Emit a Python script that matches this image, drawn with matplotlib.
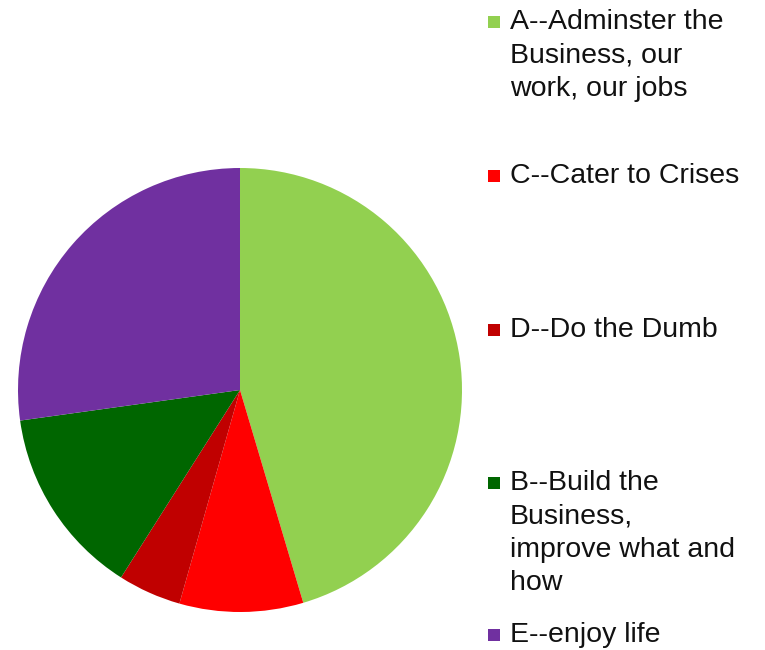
import matplotlib
matplotlib.use("Agg")
import matplotlib.pyplot as plt
from matplotlib.patches import Rectangle

plt.rcParams['font.family'] = ['Liberation Sans', 'DejaVu Sans']

labels = ["A--Adminster the\nBusiness, our\nwork, our jobs",
          "C--Cater to Crises",
          "D--Do the Dumb",
          "B--Build the\nBusiness,\nimprove what and\nhow",
          "E--enjoy life"]
values = [45.4, 9.0, 4.6, 13.8, 27.2]
colors = ["#92D050", "#FF0000", "#C00000", "#006600", "#7030A0"]

W, H = 765, 650
fig = plt.figure(figsize=(W / 100, H / 100), dpi=100)
cx, cy, r = 240, 390, 222
ax = fig.add_axes([(cx - r) / W, (H - cy - r) / H, 2 * r / W, 2 * r / H])
ax.pie(values, colors=colors, startangle=90, counterclock=False,
       wedgeprops=dict(linewidth=0))
ax.set_aspect('equal')
ax.set_xlim(-1, 1)
ax.set_ylim(-1, 1)
ax.axis('off')

first_y = [22, 176, 330, 483, 635]
line_h = 33.5
fs = 20.5
for lab, col, y0 in zip(labels, colors, first_y):
    sq = 12
    fig.patches.append(Rectangle((488 / W, (H - y0 - sq / 2) / H), sq / W, sq / H,
                                 transform=fig.transFigure, facecolor=col,
                                 edgecolor='none'))
    for i, line in enumerate(lab.split("\n")):
        fig.text(510 / W, (H - (y0 + i * line_h)) / H, line, fontsize=fs,
                 va='center', ha='left', color='#111111')

fig.savefig("out.png", dpi=100)
